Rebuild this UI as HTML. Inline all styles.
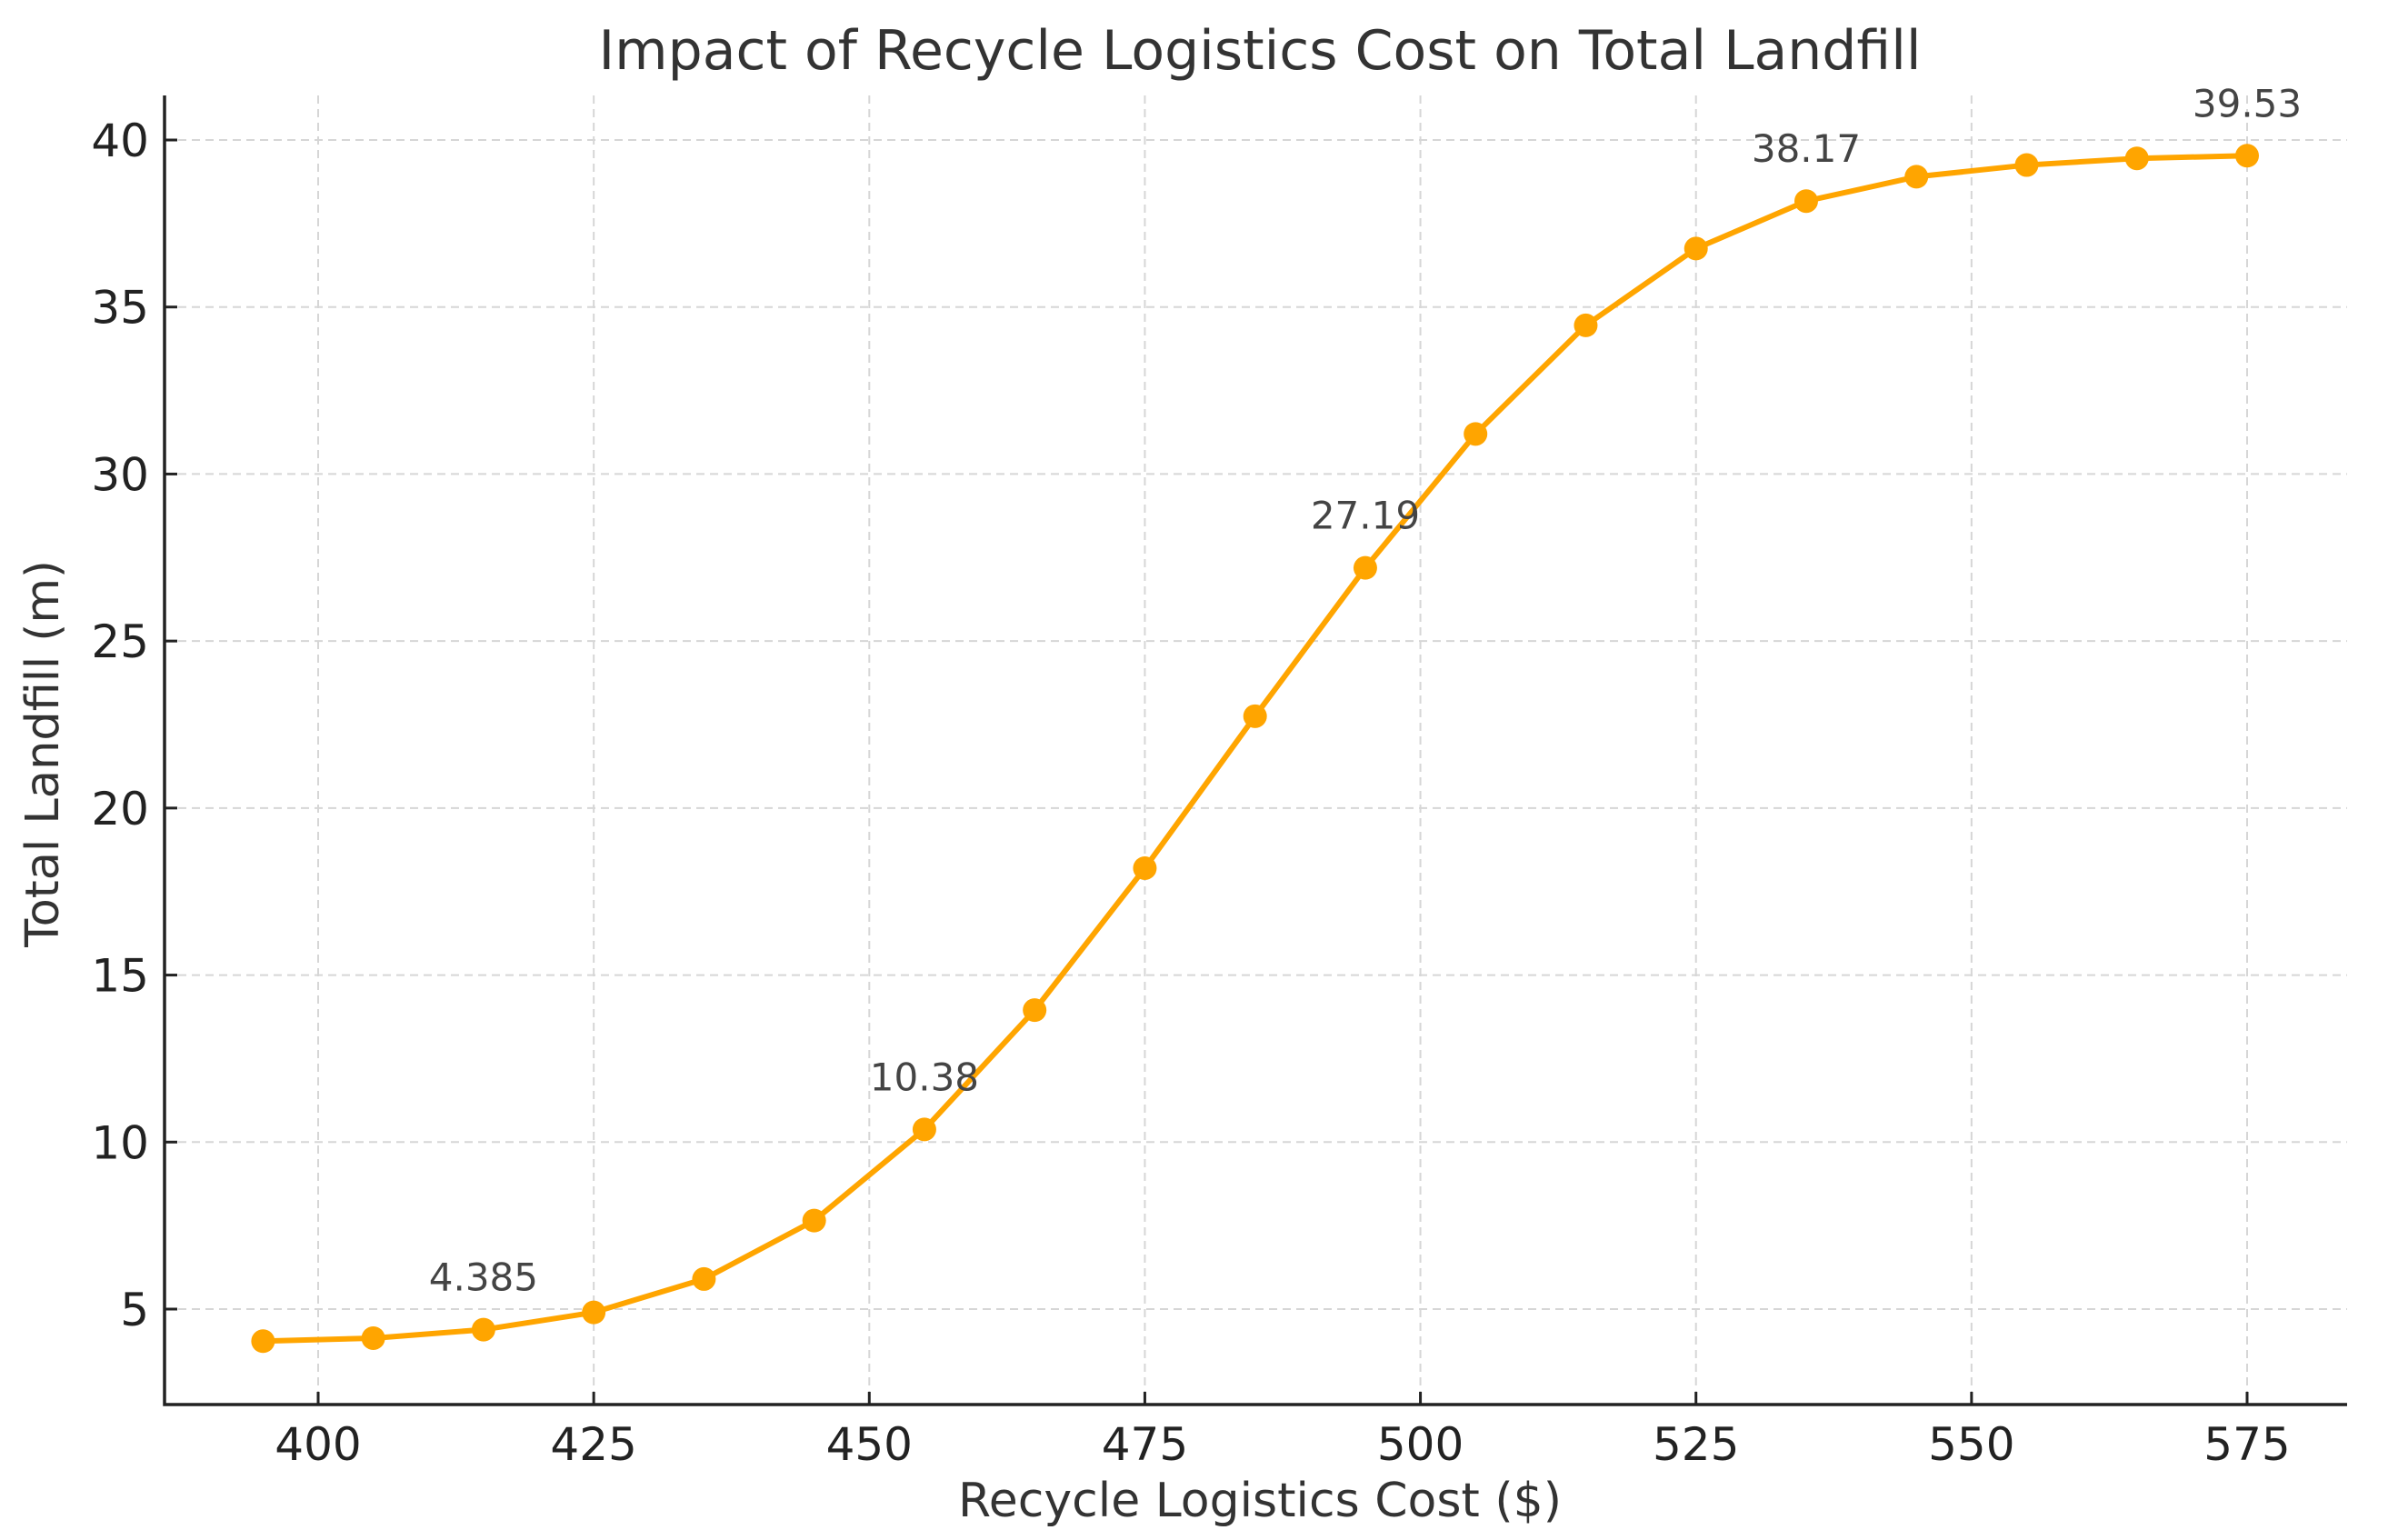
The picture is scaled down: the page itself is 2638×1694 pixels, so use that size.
<!DOCTYPE html>
<html><head><meta charset="utf-8"><style>
html,body{margin:0;padding:0;background:#fff;}
svg{display:block;font-family:"DejaVu Sans","Liberation Sans",sans-serif;}
</style></head><body>
<svg id="chart" width="2638" height="1694" viewBox="0 0 2638 1694">
<text x="1386" y="76" font-size="60" text-anchor="middle" fill="#333">Impact of Recycle Logistics Cost on Total Landfill</text>
<g id="grid"></g>
<g id="axes"></g>
<g id="series"></g>
<text x="1386" y="1668" font-size="52" text-anchor="middle" fill="#333">Recycle Logistics Cost ($)</text>
<text transform="translate(64,829) rotate(-90)" font-size="51" text-anchor="middle" fill="#333">Total Landfill (m)</text>
</svg>
<script>
const costs=[395,405,415,425,435,445,455,465,475,485,495,505,515,525,535,545,555,565,575];
const landfill=[4.04,4.13,4.385,4.9,5.9,7.65,10.38,13.95,18.2,22.75,27.19,31.2,34.45,36.75,38.17,38.9,39.25,39.45,39.53];
const annotated=[2,6,10,14,18];
const xTicks=[400,425,450,475,500,525,550,575];
const yTicks=[5,10,15,20,25,30,35,40];

const NS="http://www.w3.org/2000/svg";
const L=181,R=2582,T=105,B=1545;
const xs=v=>350+(v-400)*(2472-350)/175;
const ys=v=>1440-(v-5)*(1440-154)/35;
function mk(tag,attrs,parent){const e=document.createElementNS(NS,tag);for(const k in attrs)e.setAttribute(k,attrs[k]);parent.appendChild(e);return e;}
const grid=document.getElementById('grid'),axes=document.getElementById('axes'),ser=document.getElementById('series');
xTicks.forEach(t=>{
  const g=mk('line',{x1:xs(t),x2:xs(t),y1:T,y2:B,stroke:'#d6d6d6','stroke-width':2,'stroke-dasharray':'9,6'},grid);
  
  
  const tk=mk('line',{x1:xs(t),x2:xs(t),y1:B,y2:B-14,stroke:'#222','stroke-width':3},axes);
  
  
  const lb=mk('text',{x:xs(t),y:1606,'font-size':50,'text-anchor':'middle',fill:'#222'},axes);
  lb.textContent=t;
  
  
});
yTicks.forEach(t=>{
  const g=mk('line',{x1:L,x2:R,y1:ys(t),y2:ys(t),stroke:'#d6d6d6','stroke-width':2,'stroke-dasharray':'9,6'},grid);
  
  
  const tk=mk('line',{x1:L,x2:L+14,y1:ys(t),y2:ys(t),stroke:'#222','stroke-width':3},axes);
  
  
  const lb=mk('text',{x:164,y:ys(t)+18,'font-size':50,'text-anchor':'end',fill:'#222'},axes);
  lb.textContent=t;
  
  
});
const ax=mk('path',{d:`M${L},${T} V${B} H${R}`,fill:'none',stroke:'#222','stroke-width':3.5},axes);


const pl=mk('polyline',{points:costs.map((c,i)=>xs(c)+','+ys(landfill[i])).join(' '),fill:'none',stroke:'#FFA500','stroke-width':6,'stroke-linejoin':'round'},ser);


costs.forEach((c,i)=>{
  const p=mk('circle',{cx:xs(c),cy:ys(landfill[i]),r:13,fill:'#FFA500'},ser);
  
  
});
annotated.forEach(i=>{
  const t=mk('text',{x:xs(costs[i]),y:ys(landfill[i])-43,'font-size':42,'text-anchor':'middle',fill:'#444'},ser);
  t.textContent=landfill[i];
  
  
});
</script>
</body></html>
